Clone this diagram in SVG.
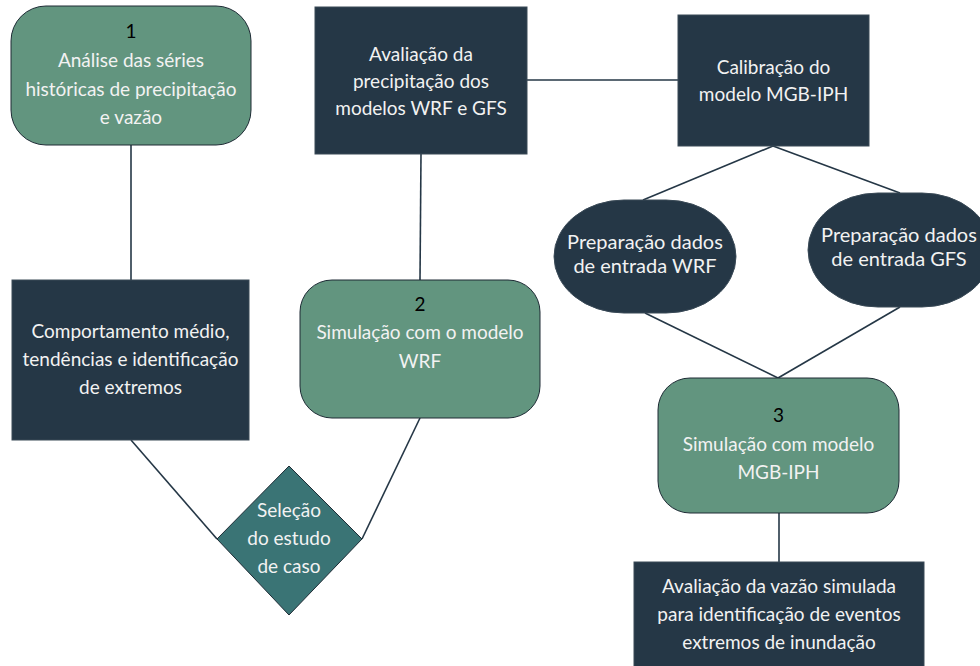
<svg xmlns="http://www.w3.org/2000/svg" width="980" height="666" viewBox="0 0 980 666">
<style>
.green{fill:#62957F;stroke:#1E2B35;stroke-width:1}
.dark{fill:#253746;stroke:#3a4a57;stroke-width:1}
.teal{fill:#3A7475;stroke:#1E2B35;stroke-width:1}
text{font-family:Lato,"Liberation Sans",sans-serif;font-size:19px;text-anchor:middle}
.w{fill:#F2F2F2}
.k{fill:#000000}
.big{font-size:20px}
.conn line{stroke:#253746;stroke-width:1.6}
</style>
<rect width="980" height="666" fill="#ffffff"/>
<g class="conn" id="connectors">
<line x1="131" y1="145" x2="131" y2="280"/>
<line x1="421" y1="154" x2="420" y2="280"/>
<line x1="527" y1="80" x2="678" y2="80"/>
<line x1="773" y1="146" x2="643" y2="200"/>
<line x1="773" y1="146" x2="900" y2="193"/>
<line x1="645" y1="313" x2="778" y2="378"/>
<line x1="900" y1="307" x2="778" y2="378"/>
<line x1="779" y1="513" x2="779" y2="562"/>
<line x1="131" y1="440" x2="217" y2="539"/>
<line x1="420" y1="418" x2="362" y2="539"/>
</g>
<g id="n1">
<rect class="green" x="11" y="6" width="240" height="139" rx="35" ry="35"/>
<text class="k" x="131" y="38">1</text>
<text class="w" x="131" y="67">Análise das séries</text>
<text class="w" x="131" y="96">históricas de precipitação</text>
<text class="w" x="131" y="124">e vazão</text>
</g>
<g id="avaliacao-precip">
<rect class="dark" x="315" y="7" width="212" height="147"/>
<text class="w" x="421" y="61">Avaliação da</text>
<text class="w" x="421" y="88">precipitação dos</text>
<text class="w" x="421" y="115">modelos WRF e GFS</text>
</g>
<g id="calibracao">
<rect class="dark" x="678" y="15" width="191" height="131"/>
<text class="w" x="773.5" y="74">Calibração do</text>
<text class="w" x="773.5" y="101">modelo MGB-IPH</text>
</g>
<g id="prep-wrf">
<rect class="dark" x="554" y="200" width="182" height="113" rx="70" ry="56.5"/>
<text class="w big" x="645" y="249">Preparação dados</text>
<text class="w big" x="645" y="273">de entrada WRF</text>
</g>
<g id="prep-gfs">
<rect class="dark" x="808" y="193" width="184" height="114" rx="70" ry="57"/>
<text class="w big" x="899" y="242">Preparação dados</text>
<text class="w big" x="899" y="266">de entrada GFS</text>
</g>
<g id="comportamento">
<rect class="dark" x="12" y="280" width="237" height="160"/>
<text class="w" x="130.5" y="338">Comportamento médio,</text>
<text class="w" x="130.5" y="366">tendências e identificação</text>
<text class="w" x="130.5" y="394">de extremos</text>
</g>
<g id="n2">
<rect class="green" x="300" y="280" width="240" height="138" rx="32" ry="32"/>
<text class="k" x="420" y="311">2</text>
<text class="w" x="420" y="339">Simulação com o modelo</text>
<text class="w" x="420" y="368">WRF</text>
</g>
<g id="n3">
<rect class="green" x="658" y="378" width="241" height="135" rx="32" ry="32"/>
<text class="k" x="778.5" y="422">3</text>
<text class="w" x="778.5" y="451">Simulação com modelo</text>
<text class="w" x="778.5" y="479">MGB-IPH</text>
</g>
<g id="avaliacao-vazao">
<rect class="dark" x="634" y="562" width="290" height="110"/>
<text class="w" x="779" y="593">Avaliação da vazão simulada</text>
<text class="w" x="779" y="621">para identificação de eventos</text>
<text class="w" x="779" y="649">extremos de inundação</text>
</g>
<g id="selecao">
<polygon class="teal" points="289,466 362,539 289,615 217,539"/>
<text class="w" x="289" y="517">Seleção</text>
<text class="w" x="289" y="545">do estudo</text>
<text class="w" x="289" y="573">de caso</text>
</g>
</svg>
